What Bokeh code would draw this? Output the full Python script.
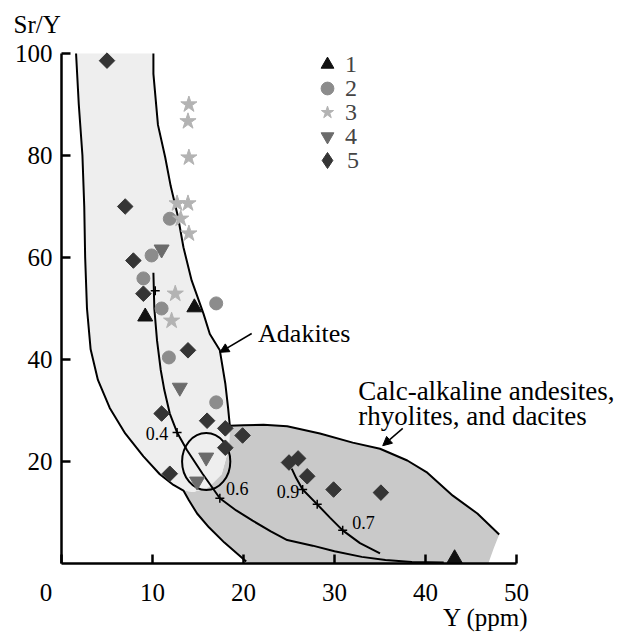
import numpy as np
from bokeh.plotting import figure
from bokeh.models import (Legend, LegendItem, Label, Arrow, NormalHead,
                          FixedTicker, Range1d, Title)
from bokeh.embed import file_html
from bokeh.resources import INLINE

FONT = "Liberation Serif"

# ---------------- data ----------------
# 1: black triangles
s1_x = [9.2, 14.6, 43.2]
s1_y = [48.4, 50.2, 1.0]
# 2: grey circles
s2_x = [11.9, 9.9, 9.0, 11.0, 17.0, 11.8, 17.0]
s2_y = [67.6, 60.4, 55.9, 50.0, 51.0, 40.4, 31.6]
# 3: light grey stars
s3_x = [14.0, 13.9, 14.0, 12.7, 13.9, 13.1, 14.0, 12.5, 12.1]
s3_y = [90.0, 86.7, 79.6, 70.6, 70.6, 67.6, 64.7, 52.9, 47.6]
# 4: grey inverted triangles
s4_x = [11.0, 13.0, 15.9, 14.9]
s4_y = [61.6, 34.5, 20.8, 16.1]
# 5: dark diamonds
s5_x = [5.0, 7.0, 7.9, 9.0, 13.9, 11.0, 16.0, 18.0, 19.9, 18.0, 11.9,
        25.0, 26.0, 27.0, 29.9, 35.1]
s5_y = [98.6, 70.0, 59.4, 52.9, 41.8, 29.4, 28.0, 26.5, 25.1, 22.7, 17.6,
        19.8, 20.6, 17.1, 14.5, 13.9]

series_labels = ["1", "2", "3", "4", "5"]

# Adakite field boundaries
adak_left_x = [1.6, 1.9, 2.3, 2.5, 2.6, 2.8, 3.2, 4.0, 5.3, 7.0, 9.0, 10.8, 12.3, 13.4]
adak_left_y = [100, 90, 80, 70, 60, 50, 42, 36, 30.5, 25.5, 21, 17.5, 15.4, 14.3]
adak_tail_x = [13.4, 14.0, 14.9, 16.2, 17.9, 20.3]
adak_tail_y = [14.3, 12.4, 9.8, 7.1, 4.1, 0.4]
adak_right_x = [10.1, 10.1, 10.6, 11.4, 12.0, 12.8, 13.4, 14.3, 15.6, 16.3, 17.4, 18.0, 18.3, 18.5]
adak_right_y = [100, 96, 86, 79.6, 74, 68, 62, 55.5, 49, 45, 41.8, 35.3, 30.6, 27]
adak_bottom_x = [18.4, 17.6, 16.2, 14.5]
adak_bottom_y = [22.7, 17.5, 15.0, 14.0]

# Calc-alkaline field boundaries
calc_top_x = [18.5, 20.0, 22.2, 24.8, 28.4, 32.0, 35.0, 38.0, 40.2, 43.0, 45.7, 48.1]
calc_top_y = [27.0, 27.1, 27.2, 26.9, 25.5, 23.7, 22.5, 20.2, 17.8, 13.3, 9.8, 5.7]
calc_edge_x = [47.5, 46.9, 20.5]
calc_edge_y = [3.0, 0.0, 0.0]

# model curves
curveA_x = [10.1, 10.2, 10.5, 10.9, 11.3, 11.9, 12.7, 13.8, 15.5, 17.4, 19.2, 21.0,
            23.0, 24.8, 27.6, 30.0, 33.0, 35.6, 38.5, 42.0]
curveA_y = [57, 50, 43.7, 38, 34, 29.4, 25.7, 22.2, 17.6, 12.8, 10.4, 8.4,
            6.3, 4.6, 3.5, 2.4, 1.3, 0.7, 0.3, 0.2]
curveB_x = [25.3, 25.8, 26.5, 28.1, 29.5, 30.9, 32.8, 35.0]
curveB_y = [18.6, 16.7, 14.5, 11.6, 9.0, 6.5, 4.0, 2.0]
tick_x = [10.3, 12.7, 17.4, 26.5, 28.1, 30.9]
tick_y = [53.5, 25.7, 12.8, 14.5, 11.6, 6.5]
curve_labels = ["0.4", "0.6", "0.9", "0.7"]
curve_label_x = [10.5, 19.3, 24.9, 33.2]
curve_label_y = [25.5, 14.7, 14.1, 8.0]

ell_x = [15.9]
ell_y = [20.0]
ell_w = [5.3]
ell_h = [11.2]

x_ticks = [0, 10, 20, 30, 40, 50]
y_ticks = [20, 40, 60, 80, 100]

# ---------------- figure ----------------
W, H = 629, 633
FL, FB, FT = 61, 563, 40          # frame left / axis bottom / frame top (px)
PX_X, PX_Y = 9.1, 5.1              # px per data unit
p = figure(frame_width=W - FL, frame_height=FB - FT,
           x_range=Range1d(0, (W - FL) / PX_X), y_range=Range1d(0, (FB - FT) / PX_Y),
           output_backend="svg", toolbar_location=None,
           min_border_left=FL, min_border_right=0, min_border_top=FT,
           min_border_bottom=H - FB)
p.xgrid.visible = False
p.ygrid.visible = False
p.outline_line_color = None
p.background_fill_color = "white"
p.border_fill_color = "white"

C1, C2, C3, C4, C5 = "#111111", "#8c8c8c", "#b3b3b3", "#6b6b6b", "#353535"
# legend symbol for series 5 (diamond shape); tiny and under the fields
r5_leg = p.scatter(s5_x, s5_y, marker="diamond", size=1, fill_color=C5, line_color=C5,
                   level="underlay")

# fields
calc_x = calc_top_x + calc_edge_x + adak_tail_x[::-1] + adak_bottom_x[::-1]
calc_y = calc_top_y + calc_edge_y + adak_tail_y[::-1] + adak_bottom_y[::-1]
p.patch(calc_x, calc_y, fill_color="#c9c9c9", line_color=None)

adak_x = adak_left_x + adak_bottom_x[::-1] + adak_right_x[::-1]
adak_y = adak_left_y + adak_bottom_y[::-1] + adak_right_y[::-1]
p.patch(adak_x, adak_y, fill_color="#eeeeee", line_color=None)

p.line(adak_left_x + adak_tail_x[1:], adak_left_y + adak_tail_y[1:], line_color="black", line_width=2)
p.line(adak_right_x, adak_right_y, line_color="black", line_width=2)
p.line(calc_top_x, calc_top_y, line_color="black", line_width=2)

# curves
p.line(curveA_x, curveA_y, line_color="black", line_width=2)
p.line(curveB_x, curveB_y, line_color="black", line_width=2)
p.scatter(tick_x, tick_y, marker="cross", size=9, line_color="black", line_width=1.5)
p.ellipse(x=ell_x, y=ell_y, width=ell_w, height=ell_h, fill_color=None,
          line_color="black", line_width=2)
p.text(x=curve_label_x, y=curve_label_y, text=curve_labels, text_align="center",
       text_baseline="middle", text_font={"value": FONT}, text_font_size="18px",
       text_color="black")

# points
r1 = p.scatter(s1_x, s1_y, marker="triangle", size=15, fill_color=C1, line_color=C1)
r2 = p.scatter(s2_x, s2_y, marker="circle", size=13, fill_color=C2, line_color=C2)
r3 = p.scatter(s3_x, s3_y, marker="star", size=17, fill_color=C3, line_color=C3)
r4 = p.scatter(s4_x, s4_y, marker="inverted_triangle", size=15, fill_color=C4, line_color=C4)
r5 = p.scatter(s5_x, s5_y, marker="square", angle=np.pi / 4, size=11, fill_color=C5, line_color=C5)

# legend: one entry per block so the row pitch matches the reference
leg_renderers = [r1, r2, r3, r4, r5_leg]
leg_centers = [64, 88, 112, 136, 160]   # px from top
leg_glyph = [32, 32, 32, 32, 40]
for lab_txt, rend, cy, g in zip(series_labels, leg_renderers, leg_centers, leg_glyph):
    lg = Legend(items=[LegendItem(label=lab_txt, renderers=[rend])],
                location=(327 - g / 2 - FL, FB - (cy + g / 2)),
                glyph_width=g, glyph_height=g, padding=0, margin=0,
                label_standoff=max(0, 18 - g // 2), spacing=0,
                border_line_color=None, background_fill_alpha=0,
                label_text_font=FONT, label_text_font_size="24px")
    p.add_layout(lg)

# axes
for ax in (p.xaxis, p.yaxis):
    ax.axis_line_width = 2.5
    ax.major_tick_line_width = 2.5
    ax.major_tick_in = 9
    ax.major_tick_out = 0
    ax.minor_tick_line_color = None
    ax.major_label_text_font = FONT
    ax.major_label_text_font_size = "25px"
    ax.major_label_text_color = "black"
    ax.axis_line_color = "black"
    ax.major_tick_line_color = "black"
p.xaxis.ticker = FixedTicker(ticks=x_ticks)
p.yaxis.ticker = FixedTicker(ticks=y_ticks)
p.xaxis.bounds = (0, 50)
p.yaxis.bounds = (0, 100)
p.xaxis.major_label_overrides = {0: "0\u2007\u2007\u2008"}
p.xaxis.major_label_standoff = 15
p.yaxis.major_label_standoff = 9

# x-axis title at the bottom-right
xt = Title(text="Y (ppm)", align="right", offset=W - 528, standoff=0,
           vertical_align="top", text_font=FONT, text_font_size="25px",
           text_font_style="normal", text_color="black")
try:
    xt.standoff = -10
except Exception:
    xt.standoff = 0
p.add_layout(xt, "below")

# y-axis title at the top-left
p.title.text = "Sr/Y"
p.title.align = "left"
p.title.offset = -48
p.title.standoff = 6
p.title.vertical_align = "bottom"
p.title.text_font = FONT
p.title.text_font_size = "25px"
p.title.text_font_style = "normal"
p.title.text_color = "black"

# labels
def lab(x, y, t, size="26px", align="left", baseline="alphabetic"):
    p.add_layout(Label(x=x, y=y, text=t, text_font=FONT, text_font_size=size,
                       text_align=align, text_baseline=baseline, text_color="black"))

lab(21.6, 45.1, "Adakites")
lab(32.6, 33.9, "Calc-alkaline andesites,", size="27px")
lab(32.6, 29.0, "rhyolites, and dacites", size="27px")

p.add_layout(Arrow(end=NormalHead(size=9, fill_color="black", line_color="black"),
                   x_start=20.9, y_start=45.1, x_end=17.4, y_end=41.4,
                   line_width=1.5, line_color="black"))
p.add_layout(Arrow(end=NormalHead(size=9, fill_color="black", line_color="black"),
                   x_start=37.5, y_start=26.5, x_end=35.3, y_end=23.1,
                   line_width=1.5, line_color="black"))

html = file_html(p, INLINE)
html = html.replace("<head>", "<head><style>html,body{overflow:hidden}</style>", 1)
open("out.html", "w").write(html)
